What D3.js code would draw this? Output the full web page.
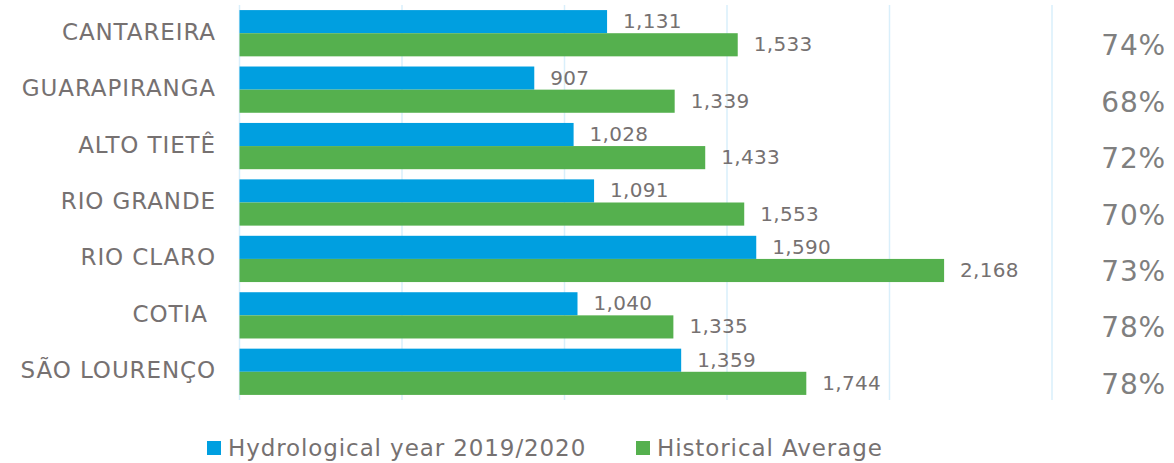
<!DOCTYPE html>
<html>
<head>
<meta charset="utf-8">
<script src="https://cdn.jsdelivr.net/npm/d3@7"></script>
<style>
  html, body { margin: 0; padding: 0; background: #fff; }
  svg { display: block; font-family: "DejaVu Sans", Verdana, sans-serif; }
  .cat-label { white-space: pre; }
</style>
</head>
<body>
<div id="chart"></div>
<script>
// ---------- Data ----------
const reservoirs = ["CANTAREIRA", "GUARAPIRANGA", "ALTO TIETÊ", "RIO GRANDE", "RIO CLARO", "COTIA ", "SÃO LOURENÇO"];
const hydroYear  = [1131, 907, 1028, 1091, 1590, 1040, 1359];
const histAvg    = [1533, 1339, 1433, 1553, 2168, 1335, 1744];
const percents   = ["74%", "68%", "72%", "70%", "73%", "78%", "78%"];
const seriesNames = ["Hydrological year 2019/2020", "Historical Average"];
const gridTicks  = [0, 500, 1000, 1500, 2000, 2500];

// ---------- Layout ----------
const width = 1174, height = 463;
const plot = { left: 239.5, right: 1052, top: 5, bottom: 400 };
const COLORS = ["#009fe0", "#55b04e"];
const TEXT = "#767171";

const svg = d3.select("#chart").append("svg")
  .attr("width", width)
  .attr("height", height);

// ---------- Scales ----------
const x = d3.scaleLinear().domain([0, 2500]).range([plot.left, plot.right]);
const y = d3.scaleBand().domain(reservoirs).range([plot.top, plot.bottom]).padding(0);
const ySub = d3.scaleBand().domain([0, 1]).range([0, y.bandwidth()])
  .paddingInner(0).paddingOuter(0.22);
const color = d3.scaleOrdinal().domain([0, 1]).range(COLORS);

// ---------- Gridlines ----------
svg.append("g")
  .selectAll("line")
  .data(gridTicks)
  .join("line")
  .attr("x1", d => x(d)).attr("x2", d => x(d))
  .attr("y1", plot.top).attr("y2", plot.bottom)
  .attr("stroke", "#d9effb")
  .attr("stroke-width", 1.5);

// ---------- Bars ----------
const rows = reservoirs.map((name, i) => ({
  name, values: [hydroYear[i], histAvg[i]], pct: percents[i]
}));

const rowG = svg.append("g")
  .selectAll("g")
  .data(rows)
  .join("g")
  .attr("transform", d => `translate(0,${y(d.name)})`);

rowG.selectAll("rect")
  .data(d => d.values.map((v, k) => ({ v, k })))
  .join("rect")
  .attr("x", x(0))
  .attr("y", d => ySub(d.k))
  .attr("width", d => x(d.v) - x(0))
  .attr("height", ySub.bandwidth())
  .attr("fill", d => color(d.k));

// value labels
const fmt = d3.format(",");
rowG.selectAll("text.val")
  .data(d => d.values.map((v, k) => ({ v, k })))
  .join("text")
  .attr("class", "val")
  .attr("x", d => x(d.v) + 16)
  .attr("y", d => ySub(d.k) + ySub.bandwidth() / 2 + 1)
  .attr("dominant-baseline", "middle")
  .attr("font-size", 20)
  .attr("letter-spacing", 0.3)
  .attr("fill", TEXT)
  .text(d => fmt(d.v));

// ---------- Category labels ----------
svg.append("g")
  .selectAll("text")
  .data(reservoirs)
  .join("text")
  .attr("class", "cat-label")
  .attr("x", 216)
  .attr("y", d => y(d) + y.bandwidth() / 2)
  .attr("text-anchor", "end")
  .attr("dominant-baseline", "middle")
  .attr("font-size", 23)
  .attr("letter-spacing", 0.9)
  .attr("fill", TEXT)
  .text(d => d);

// ---------- Percentages ----------
svg.append("g")
  .selectAll("text")
  .data(rows)
  .join("text")
  .attr("x", 1166)
  .attr("y", d => y(d.name) + y.bandwidth() / 2 + 14)
  .attr("text-anchor", "end")
  .attr("dominant-baseline", "middle")
  .attr("font-size", 28)
  .attr("letter-spacing", 0.8)
  .attr("fill", "#7f7f7f")
  .text(d => d.pct);

// ---------- Legend ----------
const legendItems = [
  { label: seriesNames[0], k: 0, x: 207 },
  { label: seriesNames[1], k: 1, x: 636 }
];
const legend = svg.append("g").attr("transform", "translate(0,441)");
legend.selectAll("rect")
  .data(legendItems)
  .join("rect")
  .attr("x", d => d.x)
  .attr("y", 0)
  .attr("width", 14)
  .attr("height", 14)
  .attr("fill", d => color(d.k));
legend.selectAll("text")
  .data(legendItems)
  .join("text")
  .attr("x", d => d.x + 21)
  .attr("y", 15)
  .attr("font-size", 23)
  .attr("letter-spacing", 0.9)
  .attr("fill", TEXT)
  .text(d => d.label);
</script>
</body>
</html>
